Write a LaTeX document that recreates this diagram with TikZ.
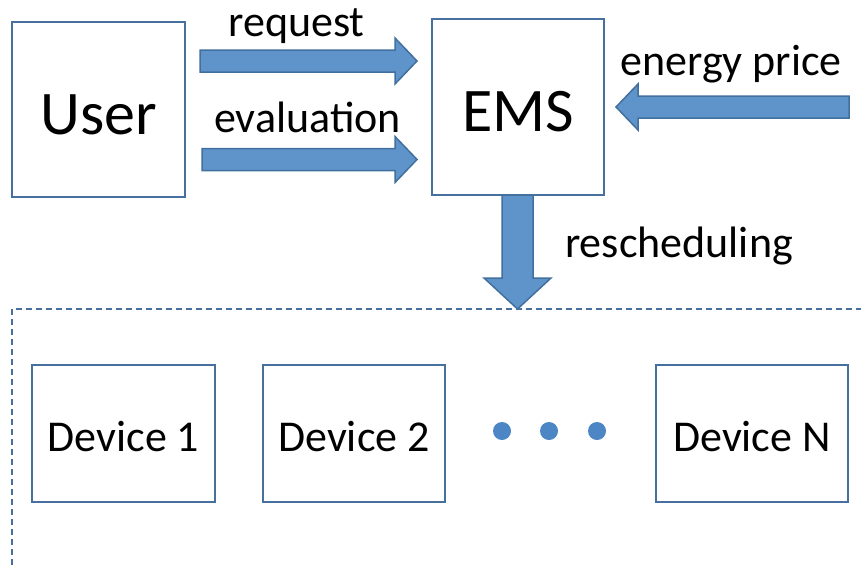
\documentclass[tikz,border=0pt]{standalone}
\usepackage{fontspec}
\setmainfont{Carlito}
\usepackage{tikz}
\usetikzlibrary{calc}
\definecolor{cLine}{RGB}{72,112,158}
\definecolor{cFill}{RGB}{94,148,202}
\definecolor{cEdge}{RGB}{66,112,158}
\definecolor{cDot}{RGB}{76,134,196}

\tikzset{
  bigbox/.style={draw=cLine, line width=2.8pt, minimum width=173pt, minimum height=175pt,
                 inner sep=0pt, text height=50pt, font=\fontsize{62}{70}\selectfont},
  devbox/.style={draw=cLine, line width=2.8pt, minimum height=137pt,
                 inner sep=0pt, text height=36pt, font=\fontsize{44}{50}\selectfont},
  lbl/.style={anchor=base, inner sep=0pt, font=\fontsize{44}{50}\selectfont},
  blockarrow/.style={fill=cFill, draw=cEdge, line width=1.5pt, line join=miter},
  dotnode/.style={circle, fill=cDot, minimum size=18pt, inner sep=0pt},
  frameline/.style={draw=cLine, line width=1.3pt, dash pattern=on 6pt off 4pt}
}

% block arrow: from, to, shaft half width, head half width, head length
\newcommand{\blockarrow}[5]{%
  \coordinate (ba-h) at ($(#2)!#5!(#1)$);
  \draw[blockarrow] ($(#1)!#3!90:(#2)$) -- ($(ba-h)!#3!90:(#2)$)
    -- ($(ba-h)!#4!90:(#2)$) -- (#2) -- ($(ba-h)!#4!-90:(#2)$)
    -- ($(ba-h)!#3!-90:(#2)$) -- ($(#1)!#3!-90:(#2)$) -- cycle;}

\begin{document}
\begin{tikzpicture}[x=1pt, y=-1pt]
    \useasboundingbox (0,0) rectangle (861,565);
    % top row
    \node[bigbox] (user) at (98.5,109.5) {User};
    \node[bigbox, minimum width=172pt, minimum height=176pt] (ems) at (518,107) {EMS};
    % device area
    \draw[frameline] (12,565) -- (12,309) -- (861,309);
    \node[devbox, minimum width=183pt] (dev1) at (123.5,433.5) {Device 1};
    \node[devbox, minimum width=182pt] (dev2) at (354,433.5) {Device 2};
    \node[devbox, minimum width=192pt] (devN) at (752,433.5) {Device N};
    \foreach \x/\n in {502/1, 549/2, 597/3}
      \node[dotnode] (dot\n) at (\x,431) {};
    % arrow ends
    \coordinate (reqS) at (200,61);
    \coordinate (reqE) at (417,61);
    \coordinate (evaS) at (202,159.5);
    \coordinate (evaE) at (417,159.5);
    \coordinate (priS) at (849,107);
    \coordinate (priE) at (616,107);
    \coordinate (resS) at (517.5,195);
    \coordinate (resE) at (517.5,309);
    \blockarrow{reqS}{reqE}{11pt}{23pt}{22pt}
    \blockarrow{evaS}{evaE}{11pt}{23pt}{22pt}
    \blockarrow{priS}{priE}{11pt}{23pt}{22pt}
    \blockarrow{resS}{resE}{15.5pt}{33.5pt}{31pt}
    % labels
    \node[lbl] (reqL) at (296.5,36) {request};
    \node[lbl] (evaL) at (307.5,132) {evaluation};
    \node[lbl] (priL) at (731,75) {energy price};
    \node[lbl] (resL) at (679,257) {rescheduling};
\end{tikzpicture}
\end{document}
